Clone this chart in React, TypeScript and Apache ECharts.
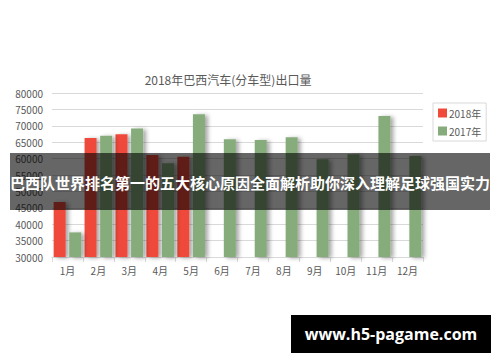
import React, { useEffect, useRef } from "react";
import * as echarts from "echarts";

const months = ["1月", "2月", "3月", "4月", "5月", "6月", "7月", "8月", "9月", "10月", "11月", "12月"];
const values2018 = [46800, 66300, 67400, 61100, 60600, null, null, null, null, null, null, null];
const values2017 = [37500, 67000, 69200, 58600, 73500, 65900, 65700, 66500, 59800, 61300, 73000, 60800];
const seriesNames = ["2018年", "2017年"];
const chartTitle = "2018年巴西汽车(分车型)出口量";
const bannerText = "巴西队世界排名第一的五大核心原因全面解析助你深入理解足球强国实力";
const watermark = "www.h5-pagame.com";

export default function App() {
  const ref = useRef<HTMLDivElement>(null);
  useEffect(() => {
    if (!ref.current) return;
    const chart = echarts.init(ref.current, undefined, { renderer: "svg" });
    const cjk = "'Noto Sans CJK SC', 'Noto Sans', sans-serif";
    const shadow = {
      shadowColor: "rgba(0,0,0,0.35)",
      shadowBlur: 4,
      shadowOffsetX: 3,
      shadowOffsetY: 1,
    };
    chart.setOption({
      animation: false,
      backgroundColor: "#ffffff",
      textStyle: { fontFamily: cjk },
      title: {
        text: chartTitle,
        left: 223,
        textAlign: "center",
        top: 68,
        textStyle: { fontSize: 12, fontWeight: "normal", color: "#595959", fontFamily: cjk },
      },
      legend: {
        orient: "vertical",
        left: 433,
        top: 103,
        width: 53,
        padding: [5, 5, 5, 5],
        borderColor: "#d9d9d9",
        borderWidth: 1,
        itemWidth: 9,
        itemHeight: 9,
        itemGap: 8,
        textStyle: { fontSize: 10, color: "#595959", fontFamily: cjk, padding: [0, 0, 0, -3] },
        data: seriesNames.map((n) => ({ name: n, icon: "rect" })),
      },
      grid: { left: 52, right: 77, top: 93, bottom: 105, containLabel: false },
      xAxis: {
        type: "category",
        data: months,
        axisLine: { lineStyle: { color: "#d9d9d9" } },
        axisTick: { show: true, alignWithLabel: false, lineStyle: { color: "#d9d9d9" } },
        axisLabel: { fontSize: 10, color: "#595959", margin: 8, fontFamily: cjk },
      },
      yAxis: {
        type: "value",
        min: 30000,
        max: 80000,
        interval: 5000,
        axisLine: { show: false },
        axisTick: { show: false },
        axisLabel: {
          fontSize: 10,
          color: "#595959",
          margin: 9,
          fontFamily: cjk,
          formatter: (v: number) => String(v),
        },
        splitLine: { lineStyle: { color: "#d9d9d9" } },
      },
      series: [
        {
          name: seriesNames[0],
          type: "bar",
          data: values2018,
          barWidth: 12,
          barGap: "30%",
          itemStyle: { color: "#EF4A3A", ...shadow },
        },
        {
          name: seriesNames[1],
          type: "bar",
          data: values2017,
          barWidth: 12,
          itemStyle: { color: "#86AC7B", ...shadow },
        },
      ],
      graphic: [
        {
          type: "rect",
          shape: { x: 10, y: 153, width: 480, height: 57 },
          style: { fill: "rgba(0,0,0,0.6)" },
          z: 100,
        },
        {
          type: "text",
          x: 250,
          y: 182,
          style: {
            text: bannerText,
            fill: "#ffffff",
            fontSize: 15,
            fontWeight: "bold",
            fontFamily: cjk,
            align: "center",
            verticalAlign: "middle",
          },
          z: 101,
        },
        {
          type: "rect",
          shape: { x: 291, y: 315, width: 200, height: 38 },
          style: { fill: "#000000" },
          z: 100,
        },
        {
          type: "text",
          x: 391,
          y: 334,
          style: {
            text: watermark,
            fill: "#ffffff",
            fontSize: 16,
            fontWeight: "bold",
            fontFamily: "'Open Sans', 'Noto Sans', sans-serif",
            align: "center",
            verticalAlign: "middle",
          },
          z: 101,
        },
      ],
    });
    return () => chart.dispose();
  }, []);
  return (
    <div
      ref={ref}
      style={{ position: "fixed", left: 0, top: 0, width: 500, height: 362 }}
    />
  );
}
